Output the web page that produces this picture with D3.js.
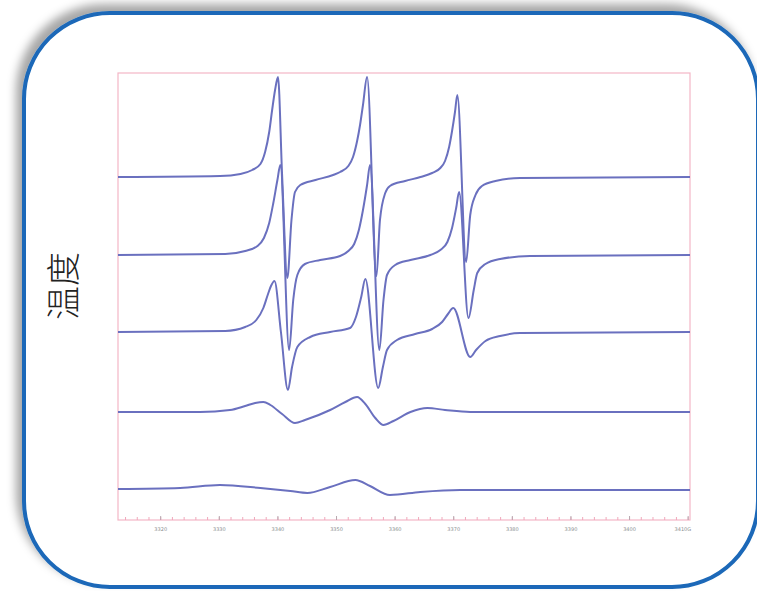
<!DOCTYPE html>
<html>
<head>
<meta charset="utf-8">
<script src="https://cdn.jsdelivr.net/npm/d3@7"></script>
<style>
  html, body { margin: 0; padding: 0; background: #fff; }
  svg { display: block; }
</style>
</head>
<body>
<div id="chart"></div>
<script>
// field axis (G) and tick labels
var xTicks = [3320, 3330, 3340, 3350, 3360, 3370, 3380, 3390, 3400, 3410];
var xTickLabels = ['3320', '3330', '3340', '3350', '3360', '3370', '3380', '3390', '3400', '3410G'];

// vertical offset of each temperature trace (a.u.)
var offsets = [343, 265, 188, 108, 31];

// traces: [field G, signal a.u.]
var trace1 = [[3312.8, 0], [3330.2, 1], [3333.7, 3], [3335.7, 7], [3337.1, 13], [3337.9, 25], [3338.6, 45],
  [3339.1, 67], [3339.6, 87], [3340.1, 100], [3340.8, 2], [3341.7, -101], [3342.4, -43], [3343.0, -15],
  [3343.9, -8], [3346.5, -3], [3349.5, 2], [3350.7, 5], [3352.1, 11], [3352.9, 20], [3353.6, 36],
  [3354.1, 52], [3354.6, 72], [3355.3, 100], [3356.9, -99], [3357.5, -43], [3358.4, -16], [3359.2, -9],
  [3361.8, -4], [3364.4, 0], [3366.4, 4], [3367.8, 9], [3368.6, 16], [3369.3, 30], [3369.8, 46],
  [3370.3, 65], [3370.7, 82], [3372.2, -85], [3372.9, -38], [3373.8, -18], [3374.9, -9], [3377.2, -4],
  [3381.4, -1], [3410.4, 0]];
var trace2 = [[3312.8, 0], [3331.1, 1], [3334.5, 4], [3336.6, 9], [3337.7, 17], [3338.6, 32], [3339.3, 52],
  [3340.0, 75], [3340.5, 90], [3342.0, -95], [3342.7, -45], [3343.4, -20], [3344.7, -9], [3347.3, -5],
  [3350.7, -1], [3352.1, 4], [3353.1, 11], [3353.9, 25], [3354.6, 45], [3355.3, 70], [3355.8, 90],
  [3357.4, -95], [3358.1, -45], [3358.7, -20], [3360.1, -10], [3362.7, -5], [3366.1, 0], [3367.8, 5],
  [3369.0, 13], [3369.8, 27], [3370.5, 47], [3371.0, 63], [3372.6, -63], [3373.5, -35], [3374.1, -18],
  [3375.5, -9], [3378.0, -4], [3383.1, -1], [3410.4, 0]];
var trace3 = [[3312.8, 0], [3331.1, 1], [3334.5, 5], [3336.4, 12], [3337.6, 24], [3338.4, 38], [3338.9, 46],
  [3339.5, 51], [3340.6, 0], [3341.8, -58], [3342.5, -35], [3343.4, -15], [3345.6, -5], [3349.0, 0],
  [3352.4, 4], [3353.4, 15], [3354.3, 35], [3355.0, 53], [3357.2, -56], [3358.0, -35], [3358.7, -18],
  [3360.4, -8], [3363.5, -2], [3366.4, 3], [3368.1, 10], [3369.1, 18], [3370.0, 24], [3372.9, -25],
  [3373.9, -18], [3375.5, -9], [3378.0, -4], [3381.4, -1], [3410.4, 0]];
var trace4 = [[3312.8, 0], [3326.8, 0], [3331.9, 2], [3334.5, 6], [3336.2, 9], [3337.6, 10], [3338.8, 7],
  [3340.8, -2], [3343.0, -11], [3344.7, -8], [3349.0, 2], [3351.6, 10], [3353.6, 15], [3355.0, 8],
  [3356.7, -6], [3358.1, -13], [3359.8, -9], [3362.7, 0], [3365.6, 4], [3368.6, 2], [3372.9, 0],
  [3410.4, 0]];
var trace5 = [[3312.8, 0], [3323.4, 1], [3330.2, 4], [3337.1, 1], [3342.2, -2], [3345.1, -4], [3349.0, 2],
  [3353.3, 9], [3355.8, 3], [3359.2, -6], [3364.4, -3], [3371.2, -1], [3410.4, -1]];
var traces = [trace1, trace2, trace3, trace4, trace5];

var width = 757, height = 591;
var plot = { left: 118, right: 690, top: 73, bottom: 520 };

var svg = d3.select('#chart').append('svg')
  .attr('width', width)
  .attr('height', height);

var defs = svg.append('defs');
var shadow = defs.append('filter').attr('id', 'shadow')
  .attr('x', '-10%').attr('y', '-10%').attr('width', '120%').attr('height', '120%');
shadow.append('feDropShadow')
  .attr('dx', -6).attr('dy', -7)
  .attr('stdDeviation', 5)
  .attr('flood-color', '#000')
  .attr('flood-opacity', 0.35);

// rounded frame
svg.append('rect')
  .attr('x', 24).attr('y', 13)
  .attr('width', 734).attr('height', 574)
  .attr('rx', 86).attr('ry', 86)
  .attr('fill', '#fff')
  .attr('stroke', '#1a68b8')
  .attr('stroke-width', 4)
  .attr('filter', 'url(#shadow)');

var x = d3.scaleLinear()
  .domain([3312.8, 3410.4])
  .range([plot.left, plot.right]);
var y = d3.scaleLinear()
  .domain([0, 447])
  .range([plot.bottom, plot.top]);

// plot border
svg.append('rect')
  .attr('x', plot.left).attr('y', plot.top)
  .attr('width', plot.right - plot.left).attr('height', plot.bottom - plot.top)
  .attr('fill', 'none')
  .attr('stroke', '#f3b6c6')
  .attr('stroke-width', 1.2);

// bottom axis
var minor = d3.range(3314, 3410.4, 2);
var minorAxis = d3.axisBottom(x)
  .tickValues(minor)
  .tickFormat('')
  .tickSizeInner(-3)
  .tickSizeOuter(0);
var gMinor = svg.append('g')
  .attr('transform', 'translate(0,' + plot.bottom + ')')
  .call(minorAxis);
gMinor.select('.domain').remove();
gMinor.selectAll('line').attr('stroke', '#f0a8bb');

var xAxis = d3.axisBottom(x)
  .tickValues(xTicks)
  .tickFormat(function(d, i) { return xTickLabels[i]; })
  .tickSizeInner(-4)
  .tickSizeOuter(0)
  .tickPadding(7);
var gAxis = svg.append('g')
  .attr('transform', 'translate(0,' + plot.bottom + ')')
  .call(xAxis);
gAxis.select('.domain').remove();
gAxis.selectAll('line').attr('stroke', '#b8a8b0');
gAxis.selectAll('text')
  .attr('fill', '#8a9090')
  .style('font-family', 'DejaVu Sans, sans-serif')
  .style('font-size', '5px');
gAxis.selectAll('.tick:last-of-type text').attr('text-anchor', 'end').attr('dx', 3);

// traces
var line = d3.line()
  .x(function(d) { return x(d[0]); })
  .y(function(d) { return d[1]; })
  .curve(d3.curveMonotoneX);

traces.forEach(function(tr, i) {
  var pts = tr.map(function(p) { return [p[0], y(offsets[i] + p[1])]; });
  svg.append('path')
    .datum(pts)
    .attr('d', line)
    .attr('fill', 'none')
    .attr('stroke', '#6a70bf')
    .attr('stroke-width', 2)
    .attr('stroke-linejoin', 'round');
});

// y label
svg.append('text')
  .text('温度')
  .attr('transform', 'translate(76,286) rotate(-90)')
  .attr('text-anchor', 'middle')
  .attr('fill', '#222')
  .style('font-family', 'Noto Sans CJK SC, sans-serif')
  .style('font-weight', 300)
  .style('font-size', '34px');
</script>
</body>
</html>
